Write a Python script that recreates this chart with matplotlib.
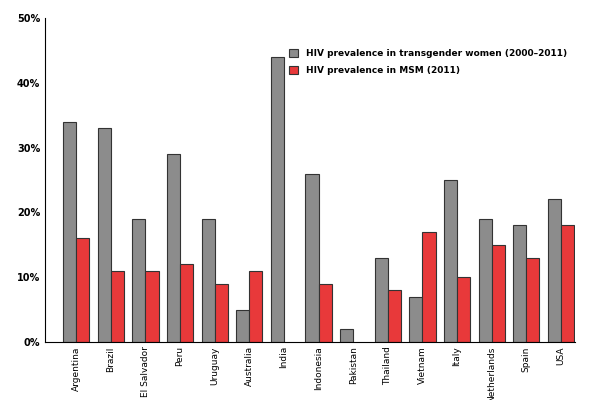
import matplotlib
matplotlib.use("Agg")
import matplotlib.pyplot as plt
import numpy as np

countries = ["Argentina","Brazil","El Salvador","Peru","Uruguay","Australia","India","Indonesia",
             "Pakistan","Thailand","Vietnam","Italy","Netherlands","Spain","USA"]
tg_women = [34,33,19,29,19,5,44,26,2,13,7,25,19,18,22]
msm = [16,11,11,12,9,11,0,9,0,8,17,10,15,13,18]
yticks = [0,10,20,30,40,50]

plt.rcParams["font.family"] = ["Liberation Sans Narrow","DejaVu Sans"]
fig = plt.figure(figsize=(6,4), dpi=100)
ax = fig.add_axes([0.075,0.145,0.883,0.81])
x = np.arange(len(countries))
w = 0.38
ax.bar(x - w/2, tg_women, w, color="#8c8c8c", edgecolor="#333333", linewidth=0.8,
       label="HIV prevalence in transgender women (2000\u20132011)")
ax.bar(x + w/2, [v if v > 0 else np.nan for v in msm], w, color="#e8393a", edgecolor="#333333", linewidth=0.8,
       label="HIV prevalence in MSM (2011)")
ax.set_xlim(-0.9, 14.4)
ax.set_ylim(0, 50)
ax.set_yticks(yticks)
ax.set_yticklabels([f"{t}%" for t in yticks], fontsize=7, fontweight="bold")
ax.set_xticks(x)
ax.set_xticklabels(countries, rotation=90, fontsize=6.5)
for s in ["top","right"]:
    ax.spines[s].set_visible(False)
ax.tick_params(axis="x", length=0, pad=3)
ax.tick_params(axis="y", length=0)
ax.legend(loc="upper right", bbox_to_anchor=(1.0, 0.93), frameon=False,
          handlelength=1.0, handleheight=1.0, labelspacing=0.9, prop={"weight":"bold","size":6.5})
fig.savefig("out.png", dpi=100)
